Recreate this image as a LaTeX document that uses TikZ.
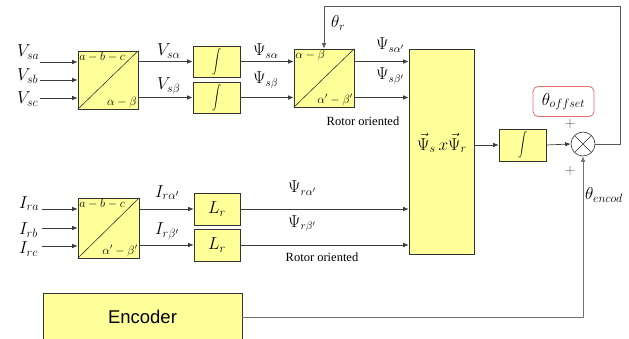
\documentclass[tikz,border=0pt]{standalone}
\usepackage{graphicx}
\usepackage{fontspec}
\setmainfont{Liberation Serif}
\newfontfamily\encfont{Liberation Sans}
\usetikzlibrary{arrows.meta,calc}
\definecolor{yel}{RGB}{255,255,153}
\definecolor{lin}{RGB}{60,60,60}
\definecolor{offred}{RGB}{235,110,110}
\newcommand{\bigint}{\scalebox{0.9}[1.2]{$\displaystyle\int$}}
\begin{document}
\begin{tikzpicture}[x=1pt,y=-1pt,
  blk/.style={draw=black!80, fill=yel, line width=0.6pt, inner sep=0pt},
  arr/.style={draw=lin, line width=0.7pt, -{Latex[length=5.5pt,width=4.5pt]}},
  lab/.style={anchor=base west, inner sep=0pt},
  big/.style={font=\fontsize{18}{20}\selectfont},
  psi/.style={font=\fontsize{16}{18}\selectfont},
  inl/.style={font=\fontsize{11.5}{13}\selectfont, inner sep=1.5pt},
  rot/.style={font=\fontsize{12.5}{14}\selectfont, inner sep=0pt}
]
\useasboundingbox (0,0) rectangle (629,339);

% ---------- blocks ----------
\node[blk, minimum width=60pt, minimum height=58pt] (abc1) at (108,80) {};
\node[blk, minimum width=47pt, minimum height=31pt, font=\fontsize{12}{14}\selectfont] (int1) at (216.5,61.5) {\bigint};
\node[blk, minimum width=47pt, minimum height=31pt, font=\fontsize{12}{14}\selectfont] (int2) at (216.5,97.5) {\bigint};
\node[blk, minimum width=60pt, minimum height=58pt] (ab2) at (324,78) {};
\node[blk, minimum width=65pt, minimum height=205pt] (cross) at (441.5,151.5) {};
\node[font=\fontsize{18}{20}\selectfont, inner sep=0pt] (crosst) at (442,143) {$\vec{\Psi}_{s}\,x\vec{\Psi}_{r}$};
\node[blk, minimum width=47pt, minimum height=32pt, font=\fontsize{12}{14}\selectfont] (int3) at (522.5,145) {\bigint};
\node[circle, draw=black!80, fill=white, line width=0.6pt, minimum size=24pt, inner sep=0pt,
  path picture={\draw[black!80,line width=0.6pt] (path picture bounding box.north west) -- (path picture bounding box.south east)
  (path picture bounding box.north east) -- (path picture bounding box.south west);}] (sum) at (583,144) {};
\node[draw=offred, rounded corners=5pt, fill=white, line width=0.8pt, minimum width=61pt, minimum height=30pt, inner sep=0pt,
  font=\fontsize{18}{20}\selectfont] (off) at (563.5,101.5) {$\theta_{offset}$};

\node[blk, minimum width=61pt, minimum height=60pt] (abc3) at (108.5,228) {};
\node[blk, minimum width=46pt, minimum height=32pt, big] (lr1) at (217,209) {$L_r$};
\node[blk, minimum width=46pt, minimum height=32pt, big] (lr2) at (217,245) {$L_r$};

\node[blk, minimum width=199pt, minimum height=48pt, font=\encfont\fontsize{18.5}{20}\selectfont] (enc) at (142.5,317) {Encoder};

% diagonals and inner labels of the transform blocks
\foreach \b in {abc1,ab2,abc3}{\draw[black!80,line width=0.6pt] (\b.south west) -- (\b.north east);}
\node[inl, anchor=north west] at (abc1.north west) {$a-b-c$};
\node[inl, anchor=south east] at (abc1.south east) {$\alpha-\beta$};
\node[inl, anchor=north west] at (ab2.north west) {$\alpha-\beta$};
\node[inl, anchor=south east] at (ab2.south east) {$\alpha'-\beta'$};
\node[inl, anchor=north west] at (abc3.north west) {$a-b-c$};
\node[inl, anchor=south east] at (abc3.south east) {$\alpha'-\beta'$};

% ---------- input coordinates ----------
\coordinate (vsa) at (40,62);
\coordinate (vsb) at (40,80);
\coordinate (vsc) at (40,98);
\coordinate (ira) at (42,209);
\coordinate (irb) at (42,228);
\coordinate (irc) at (42,246);
\coordinate (fbR) at (620,6);

% ---------- connectors ----------
\draw[arr] (vsa) -- (vsa -| abc1.west);
\draw[arr] (vsb) -- (vsb -| abc1.west);
\draw[arr] (vsc) -- (vsc -| abc1.west);
\draw[arr] (abc1.east |- int1.west) -- (int1.west);
\draw[arr] (abc1.east |- int2.west) -- (int2.west);
\draw[arr] (int1.east) -- (int1.east -| ab2.west);
\draw[arr] (int2.east) -- (int2.east -| ab2.west);
\draw[arr] (ab2.east |- int1.east) -- (int1.east -| cross.west);
\draw[arr] (ab2.east |- int2.east) -- (int2.east -| cross.west);
\draw[arr] (cross.east |- int3.west) -- (int3.west);
\draw[arr] (int3.east) -- (sum.west);
\draw[arr, draw=black!65] (sum.east) -| (fbR) -| (ab2.north);

\draw[arr] (ira) -- (ira -| abc3.west);
\draw[arr] (irb) -- (irb -| abc3.west);
\draw[arr] (irc) -- (irc -| abc3.west);
\draw[arr] (abc3.east |- lr1.west) -- (lr1.west);
\draw[arr] (abc3.east |- lr2.west) -- (lr2.west);
\draw[arr] (lr1.east) -- (lr1.east -| cross.west);
\draw[arr] (lr2.east) -- (lr2.east -| cross.west);

\draw[arr, draw=black!55] (enc.east) -| (sum.south);

% ---------- labels ----------
\node[lab, big] at (17,57) {$V_{sa}$};
\node[lab, big] at (17,81) {$V_{sb}$};
\node[lab, big] at (17,104) {$V_{sc}$};
\node[lab, big] at (157,56) {$V_{s\alpha}$};
\node[lab, big] at (157,90) {$V_{s\beta}$};
\node[lab, psi] at (253,56) {$\Psi_{s\alpha}$};
\node[lab, psi] at (253,84) {$\Psi_{s\beta}$};
\node[lab, big] at (331,28) {$\theta_{r}$};
\node[lab, psi] at (376,50) {$\Psi_{s\alpha'}$};
\node[lab, psi] at (376,80) {$\Psi_{s\beta'}$};
\node[rot] (rot1) at (363,121) {Rotor oriented};

\node[lab, big] at (19,208) {$I_{ra}$};
\node[lab, big] at (19,235) {$I_{rb}$};
\node[lab, big] at (19,254) {$I_{rc}$};
\node[lab, big] at (155,197) {$I_{r\alpha'}$};
\node[lab, big] at (155,235) {$I_{r\beta'}$};
\node[lab, psi] at (288,193) {$\Psi_{r\alpha'}$};
\node[lab, psi] at (288,227) {$\Psi_{r\beta'}$};
\node[rot] (rot2) at (322,257) {Rotor oriented};

\node[font=\fontsize{14}{15}\selectfont, text=black!65, inner sep=0pt] (p1) at (570,124) {$+$};
\node[font=\fontsize{14}{15}\selectfont, text=black!65, inner sep=0pt] (p2) at (570,171) {$+$};
\node[lab, big] at (585,200) {$\theta_{encod}$};
\end{tikzpicture}
\end{document}
